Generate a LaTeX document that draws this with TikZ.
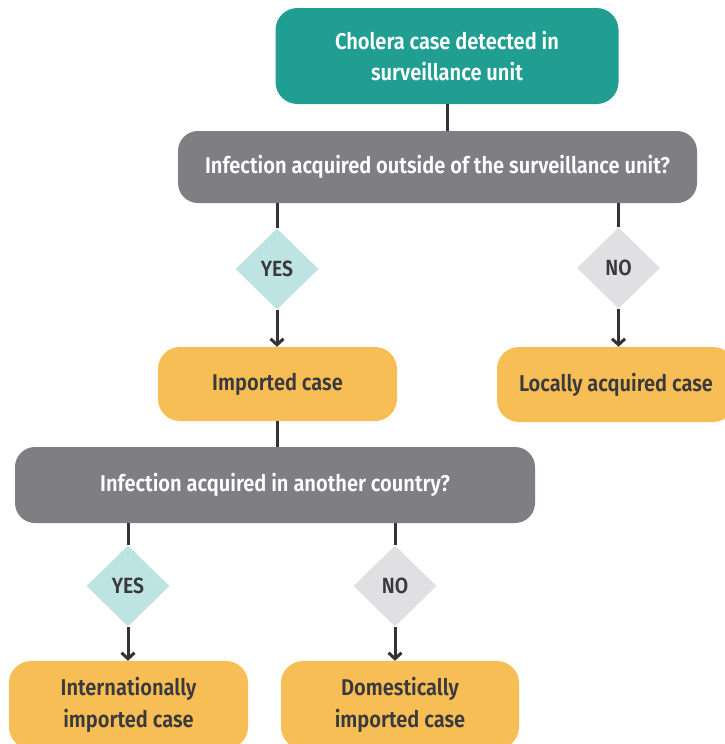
\documentclass[tikz,border=0pt]{standalone}
\usepackage{fontspec}
\setmainfont{Fira Sans}[FakeStretch=0.88, BoldFont=* SemiBold]
\usetikzlibrary{shapes.geometric,arrows.meta}
\definecolor{tealbox}{HTML}{1F9E91}
\definecolor{graybox}{HTML}{7F7F83}
\definecolor{yelbox}{HTML}{F7BE55}
\definecolor{bluedia}{HTML}{BEE3E3}
\definecolor{graydia}{HTML}{E0E0E2}
\definecolor{txtdark}{HTML}{3A3A3C}
\definecolor{linedark}{HTML}{333335}
\tikzset{
  box/.style={rectangle, rounded corners=22pt, inner sep=0pt, align=center,
    font=\fontsize{22.8}{31.5}\selectfont\bfseries},
  startbox/.style={box, fill=tealbox, text=white},
  qbox/.style={box, fill=graybox, text=white, rounded corners=20pt},
  resbox/.style={box, fill=yelbox, text=txtdark},
  yesdia/.style={diamond, fill=bluedia, text=txtdark, inner sep=0pt,
    minimum width=83pt, minimum height=81pt, font=\fontsize{22}{24}\selectfont\bfseries},
  nodia/.style={yesdia, fill=graydia},
  link/.style={draw=linedark, line width=3pt},
  arr/.style={link, -{Straight Barb[length=6pt,width=13pt,line width=3pt]}}
}
\begin{document}
\begin{tikzpicture}[x=1pt,y=-1pt]
\useasboundingbox (0,0) rectangle (725,744);
\clip (0,0) rectangle (725,744);
\node[startbox, minimum width=343pt, minimum height=96pt] (start) at (447,56)
  {Cholera case detected in\\surveillance unit};
\node[qbox, minimum width=519pt, minimum height=72pt] (q1) at (437.5,167)
  {Infection acquired outside of the surveillance unit?};
\node[yesdia] (y1) at (277,269) {YES};
\node[nodia] (n1) at (618.5,268) {NO};
\node[resbox, minimum width=239pt, minimum height=74pt] (imp) at (277.5,384) {Imported case};
\node[resbox, minimum width=238pt, minimum height=75pt] (loc) at (616,384.5) {Locally acquired case};
\node[qbox, minimum width=520pt, minimum height=76pt] (q2) at (275,485)
  {Infection acquired in another country?};
\node[yesdia] (y2) at (128,586) {YES};
\node[nodia] (n2) at (395,586) {NO};
\node[resbox, minimum width=239pt, minimum height=88pt] (intl) at (128.5,705)
  {Internationally\\imported case};
\node[resbox, minimum width=238pt, minimum height=88pt] (dom) at (400,705)
  {Domestically\\imported case};
\draw[link] (start.south) -- (start.south |- q1.north);
\draw[link] (y1.north |- q1.south) -- (y1.north);
\draw[link] (n1.north |- q1.south) -- (n1.north);
\draw[arr] (y1.south) -- (y1.south |- imp.north);
\draw[arr] (n1.south) -- (n1.south |- loc.north);
\draw[link] (imp.south) -- (imp.south |- q2.north);
\draw[link] (y2.north |- q2.south) -- (y2.north);
\draw[link] (n2.north |- q2.south) -- (n2.north);
\draw[arr] (y2.south) -- (y2.south |- intl.north);
\draw[arr] (n2.south) -- (n2.south |- dom.north);
\end{tikzpicture}
\end{document}
